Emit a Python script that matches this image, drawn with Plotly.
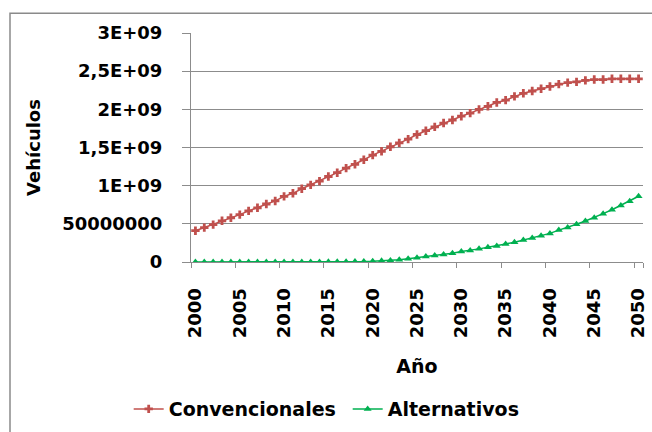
import plotly.graph_objects as go

years = list(range(2000, 2051))

convencionales = [
    0.41e9, 0.45e9, 0.49e9, 0.54e9, 0.58e9, 0.62e9, 0.67e9, 0.71e9, 0.76e9, 0.80e9,
    0.86e9, 0.90e9, 0.96e9, 1.01e9, 1.06e9, 1.12e9, 1.17e9, 1.23e9, 1.28e9, 1.34e9,
    1.40e9, 1.45e9, 1.51e9, 1.56e9, 1.61e9, 1.67e9, 1.72e9, 1.77e9, 1.82e9, 1.86e9,
    1.91e9, 1.95e9, 2.00e9, 2.04e9, 2.09e9, 2.12e9, 2.17e9, 2.21e9, 2.24e9, 2.27e9,
    2.30e9, 2.33e9, 2.35e9, 2.36e9, 2.38e9, 2.39e9, 2.39e9, 2.40e9, 2.40e9, 2.40e9,
    2.40e9,
]

alternativos = [
    0.0, 0.0, 0.0, 0.0, 0.0, 0.0, 0.0, 0.0, 0.0, 0.0,
    0.0, 0.0, 0.0, 0.001e9, 0.001e9, 0.002e9, 0.003e9, 0.004e9, 0.006e9, 0.008e9,
    0.011e9, 0.015e9, 0.020e9, 0.030e9, 0.043e9, 0.056e9, 0.073e9, 0.086e9, 0.099e9, 0.116e9,
    0.138e9, 0.151e9, 0.172e9, 0.194e9, 0.211e9, 0.237e9, 0.258e9, 0.289e9, 0.314e9, 0.345e9,
    0.375e9, 0.418e9, 0.452e9, 0.495e9, 0.538e9, 0.581e9, 0.633e9, 0.685e9, 0.741e9, 0.797e9,
    0.861e9,
]

y_tickvals = [0, 0.5e9, 1.0e9, 1.5e9, 2.0e9, 2.5e9, 3.0e9]
y_ticktext = ["0", "50000000", "1E+09", "1,5E+09", "2E+09", "2,5E+09", "3E+09"]
x_tickvals = list(range(2000, 2051, 5))
x_ticktext = [str(v) for v in x_tickvals]

FONT = dict(family="DejaVu Sans", size=18, color="black", weight="bold")
GRID = "#8c8c8c"

fig = go.Figure()
fig.add_trace(go.Scatter(
    x=years, y=convencionales, name="Convencionales", mode="lines+markers",
    line=dict(color="#c0504d", width=1.5),
    marker=dict(symbol="cross", size=7, color="#c0504d"),
))
fig.add_trace(go.Scatter(
    x=years, y=alternativos, name="Alternativos", mode="lines+markers",
    line=dict(color="#00b050", width=1.5),
    marker=dict(symbol="triangle-up", size=7, color="#00b050"),
))
# invisible trace on the overlay axis that carries the between-category tick marks
fig.add_trace(go.Scatter(x=[years[0]], y=[0], xaxis="x2", showlegend=False,
                         mode="markers", marker=dict(opacity=0), hoverinfo="skip"))

plot_l, plot_r, plot_t, plot_b = 191, 648, 33, 265
W, H = 652, 432
pw, ph = plot_r - plot_l, plot_b - plot_t

fig.update_layout(
    width=W, height=H,
    margin=dict(l=plot_l, r=W - plot_r, t=plot_t, b=H - plot_b),
    paper_bgcolor="white", plot_bgcolor="white",
    font=FONT,
    showlegend=True,
    legend=dict(orientation="h", x=(128 - plot_l) / pw, xanchor="left",
                y=(plot_b - 414) / ph, yanchor="middle",
                font=dict(family="DejaVu Sans", size=19, color="black", weight="bold"),
                itemwidth=30, entrywidth=174, entrywidthmode="pixels",
                tracegroupgap=0, bgcolor="rgba(0,0,0,0)"),
    xaxis=dict(
        range=[1999.5, 2050.5], tickvals=x_tickvals, ticktext=x_ticktext,
        tickangle=-90, ticks="", showgrid=False, zeroline=False,
        showline=True, linecolor=GRID, linewidth=1,
        tickfont=FONT, ticklabelstandoff=18, ticklabeloverflow="allow",
        title=dict(text="Año", font=dict(family="DejaVu Sans", size=19, weight="bold"), standoff=22),
    ),
    xaxis2=dict(
        range=[1999.5, 2050.5], overlaying="x", anchor="y", side="bottom",
        tickvals=[v - 0.5 for v in x_tickvals] + [2050.5], showticklabels=False,
        ticks="outside", ticklen=5, tickcolor=GRID, showgrid=False, zeroline=False,
        showline=False,
    ),
    yaxis=dict(
        range=[0, 3.0e9], tickvals=y_tickvals, ticktext=y_ticktext,
        ticks="outside", ticklen=8, tickcolor=GRID,
        showgrid=True, gridcolor=GRID, gridwidth=1, zeroline=False,
        showline=True, linecolor=GRID, linewidth=1,
        tickfont=FONT, ticklabelstandoff=16,
        title=dict(text="Vehículos", font=dict(family="DejaVu Sans", size=18, weight="bold"), standoff=16),
    ),
    shapes=[dict(
        type="rect", xref="paper", yref="paper",
        x0=(8 - plot_l) / pw, x1=(W + 10 - plot_l) / pw,
        y0=(plot_b - (H + 10)) / ph, y1=(plot_b - 13) / ph,
        line=dict(color="#8a8a8a", width=1.5), fillcolor="rgba(0,0,0,0)", layer="below",
    )],
)

fig.write_html("out.html")
